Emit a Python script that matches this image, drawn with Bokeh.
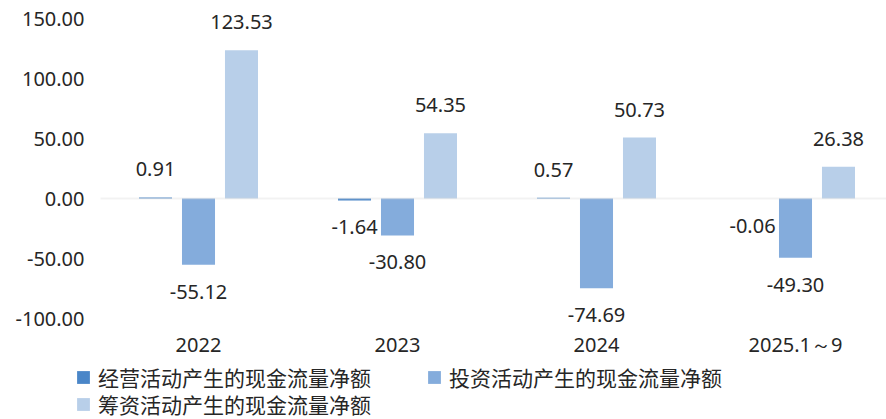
from bokeh.plotting import figure
from bokeh.models import (ColumnDataSource, Range1d, FixedTicker, BoxAnnotation, LabelSet,
                          Legend, LegendItem)
from bokeh.core.properties import value
from bokeh.embed import file_html
from bokeh.resources import INLINE

categories = ["2022", "2023", "2024", "2025.1～9"]
series_names = ["经营活动产生的现金流量净额", "投资活动产生的现金流量净额", "筹资活动产生的现金流量净额"]
operating = [0.91, -1.64, 0.57, -0.06]
investing = [-55.12, -30.80, -74.69, -49.30]
financing = [123.53, 54.35, 50.73, 26.38]
y_ticks = [-100, -50, 0, 50, 100, 150]

colors = ["#4a86c8", "#84acdc", "#b8cfe9"]
offsets = [-0.216, 0.0, 0.216]
bar_w = 0.166
W, H = 886, 419
PX_X = 199.0   # pixels per category
PX_Y = 1.2     # pixels per unit
X0, Y0 = 198.0, 198.0  # pixel position of first category / zero
PLOT_LEFT = (100 - X0) / PX_X

p = figure(width=W, height=H, output_backend="svg", toolbar_location=None,
           x_range=Range1d(-X0 / PX_X, (W - X0) / PX_X),
           y_range=Range1d(-(H - Y0) / PX_Y, Y0 / PX_Y),
           min_border_left=0, min_border_right=0, min_border_top=0, min_border_bottom=0)
p.outline_line_color = None
p.xgrid.visible = False
p.ygrid.visible = False
p.background_fill_color = "white"

idx = list(range(len(categories)))
renderers = []
for vals, col, off in zip([operating, investing, financing], colors, offsets):
    src = ColumnDataSource(dict(x=[i + off for i in idx], top=vals,
                                text=["%.2f" % v for v in vals],
                                yoff=[28 if v >= 0 else -27 for v in vals]))
    r = p.vbar(x="x", top="top", bottom=0, width=bar_w, source=src,
               fill_color=col, line_color=None)
    renderers.append(r)
    p.add_layout(LabelSet(x="x", y="top", text="text", y_offset="yoff", source=src,
                          text_align="center", text_baseline="middle",
                          text_font=value("Noto Sans"), text_font_size=value("20px"),
                          text_color="#262626"))

# zero baseline across the plot area
p.add_layout(BoxAnnotation(left=PLOT_LEFT, bottom=0, top=0, fill_alpha=0,
                           line_color="#d4d4d4", line_width=2, level="overlay"))

# axes
p.xaxis.ticker = FixedTicker(ticks=idx)
p.xaxis.major_label_overrides = {i: c for i, c in zip(idx, categories)}
p.xaxis.fixed_location = y_ticks[0]
p.yaxis.ticker = FixedTicker(ticks=y_ticks)
p.yaxis.major_label_overrides = {t: "%.2f" % t for t in y_ticks}
p.yaxis.fixed_location = PLOT_LEFT
for ax in [p.xaxis[0], p.yaxis[0]]:
    ax.axis_line_color = None
    ax.major_tick_line_color = None
    ax.minor_tick_line_color = None
    ax.major_tick_out = 0
    ax.major_tick_in = 0
    ax.major_label_text_font = "Noto Sans"
    ax.major_label_text_font_size = "20px"
    ax.major_label_text_color = "#262626"
p.xaxis.major_label_standoff = 12
p.yaxis.major_label_standoff = 16

def make_legend(item, loc):
    return Legend(items=[item], location=loc, orientation="vertical",
                  label_text_font="Noto Sans CJK SC", label_text_font_size="21px",
                  label_text_color="#262626", glyph_width=16, glyph_height=16,
                  label_standoff=7, spacing=0, padding=0, margin=0,
                  border_line_color=None, background_fill_alpha=0)

legend_locs = [(75, 27), (426, 27), (75, 0)]
for name, r, loc in zip(series_names, renderers, legend_locs):
    p.add_layout(make_legend(LegendItem(label=name, renderers=[r]), loc), "center")

open("out.html", "w").write(file_html(p, INLINE))
